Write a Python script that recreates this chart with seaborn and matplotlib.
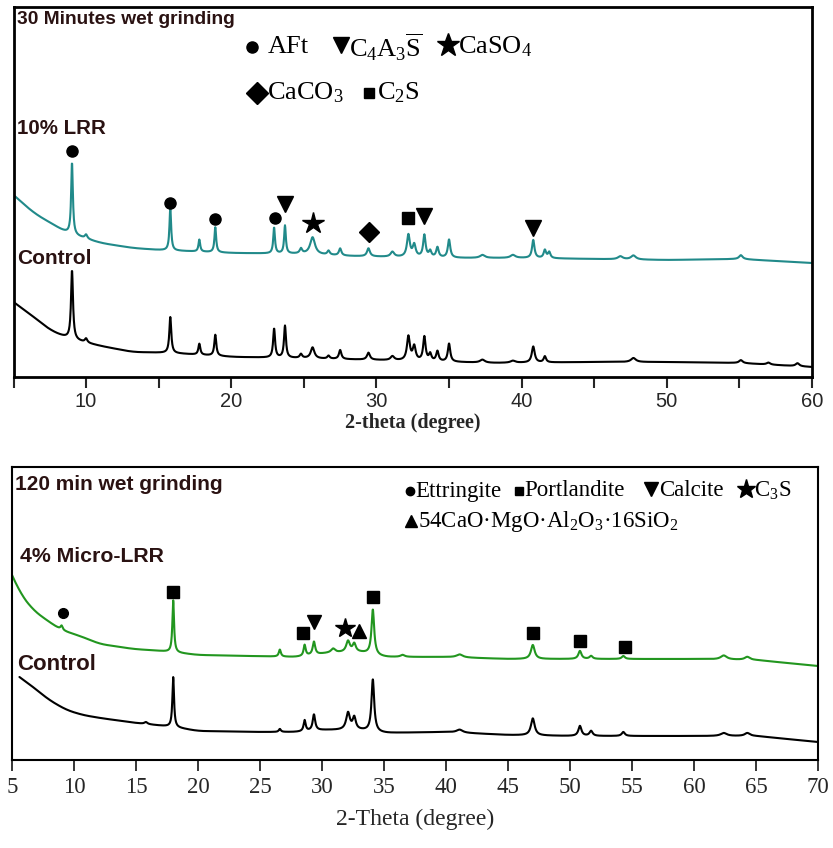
import numpy as np
import pandas as pd
import matplotlib
matplotlib.use("Agg")
import matplotlib.pyplot as plt
import seaborn as sns

# ---------------- data (arbitrary intensity units) -------------
# Panel A: 30 minutes wet grinding
a_lrr_bg_x = [5, 6.4, 8.7, 11, 13.2, 15, 20, 25, 28, 31, 36, 40, 45, 50, 55, 60]
a_lrr_bg_y = [182, 164, 144, 134, 129, 127, 124, 123, 121, 120, 119, 119, 118, 117, 118, 114]
a_lrr_pk_pos = [9.03, 10.0, 15.8, 17.8, 18.9, 22.95, 23.7, 24.8, 25.6, 26.7, 27.5, 29.45, 31.1,
                32.2, 32.6, 33.3, 33.7, 34.2, 35.0, 37.3, 39.4, 40.8, 41.6, 41.9, 46.8, 47.7, 55.1]
a_lrr_pk_h = [72, 4, 42, 12, 25, 26, 28, 5, 17, 4, 7, 8, 5,
              22, 12, 22, 6, 10, 18, 3, 3, 18, 8, 6, 3, 4, 4]
a_lrr_pk_w = [0.07, 0.1, 0.07, 0.07, 0.07, 0.07, 0.07, 0.1, 0.2, 0.1, 0.1, 0.12, 0.15,
              0.12, 0.12, 0.1, 0.1, 0.1, 0.1, 0.2, 0.2, 0.1, 0.1, 0.1, 0.2, 0.2, 0.15]

a_ctl_bg_x = [5, 6.4, 7.5, 8.7, 9.8, 11, 13.2, 15.8, 20.2, 24, 30, 38, 45, 50, 55, 60]
a_ctl_bg_y = [75, 60, 47, 39, 35, 31, 25, 24, 20, 19, 17, 14, 15, 15, 14, 10]
a_ctl_pk_pos = [9.03, 10.0, 15.8, 17.8, 18.9, 22.95, 23.7, 24.8, 25.6, 26.7, 27.5, 29.45, 31.1,
                32.2, 32.6, 33.3, 33.7, 34.2, 35.0, 37.3, 39.4, 40.8, 41.6, 47.7, 55.1, 57.0, 59.0]
a_ctl_pk_h = [69, 4, 36, 11, 21, 29, 32, 4, 11, 3, 9, 7, 4,
              24, 14, 24, 7, 10, 18, 3, 2, 16, 6, 4, 3, 2, 3]
a_ctl_pk_w = [0.08, 0.1, 0.08, 0.08, 0.08, 0.08, 0.08, 0.1, 0.15, 0.1, 0.1, 0.12, 0.15,
              0.12, 0.12, 0.1, 0.1, 0.1, 0.1, 0.2, 0.2, 0.12, 0.1, 0.2, 0.15, 0.15, 0.15]

a_mark_x = [9.03, 15.8, 18.9, 23.0, 23.7, 25.6, 29.5, 32.2, 33.3, 40.8]
a_mark_y = [226, 174, 158, 159, 173, 154, 145, 159, 161, 149]
a_mark_kind = ["o", "o", "o", "o", "v", "*", "D", "s", "v", "v"]

# Panel B: 120 min wet grinding
b_lrr_bg_x = [5, 5.65, 6.7, 8.0, 9.0, 10.7, 12.1, 14.8, 17, 20, 24, 28, 30.5, 33, 35, 40, 45, 50, 55, 60, 65, 70]
b_lrr_bg_y = [185, 167, 150, 138, 130, 123, 116, 111, 109, 105, 104, 103, 107, 108, 103, 103, 101, 101, 101, 101, 100, 94]
b_lrr_pk_pos = [9.0, 18.0, 26.6, 28.6, 29.35, 30.9, 32.1, 32.6, 34.1, 36.5, 41.1, 47.0, 50.8, 51.7, 54.3, 62.4, 64.3]
b_lrr_pk_h = [4, 52, 7, 11, 13, 4, 11, 8, 45, 2, 3, 14, 8, 3, 3, 4, 3]
b_lrr_pk_w = [0.1, 0.08, 0.1, 0.1, 0.12, 0.2, 0.18, 0.15, 0.13, 0.2, 0.3, 0.18, 0.15, 0.15, 0.15, 0.3, 0.25]

b_ctl_bg_x = [5.6, 6.7, 8.0, 9.4, 10.7, 12.1, 15, 18, 20, 25, 28, 30, 33, 35, 40, 45, 50, 55, 60, 65, 70]
b_ctl_bg_y = [83, 73, 60, 50, 45, 42, 37, 33, 29, 28, 28, 30, 30, 27, 28, 25, 24, 24, 24, 24, 18]
b_ctl_pk_pos = [15.8, 18.0, 26.6, 28.6, 29.35, 32.1, 32.6, 34.1, 41.1, 47.0, 50.8, 51.7, 54.3, 62.4, 64.3]
b_ctl_pk_h = [2, 50, 3, 11, 16, 17, 12, 52, 3, 17, 10, 5, 4, 3, 3]
b_ctl_pk_w = [0.15, 0.08, 0.1, 0.1, 0.12, 0.18, 0.15, 0.13, 0.3, 0.18, 0.15, 0.15, 0.15, 0.3, 0.25]

b_mark_x = [9.1, 18.0, 28.5, 29.35, 31.85, 33.0, 34.1, 47.0, 50.8, 54.4]
b_mark_y = [147, 168, 127, 138, 132, 129, 163, 127, 119, 113]
b_mark_kind = ["o", "s", "s", "v", "*", "^", "s", "s", "s", "s"]


def pattern(x0, x1, bg_x, bg_y, pos, h, w):
    step = 0.02
    x = np.arange(x0, x1 + 1e-9, step)
    base = np.interp(x, bg_x, bg_y)
    # soften the corners of the read baseline with a moving average
    # (odd reflection at the ends keeps the end slopes)
    k = 61
    m = k // 2
    left = 2 * base[0] - base[m:0:-1]
    right = 2 * base[-1] - base[-2:-m - 2:-1]
    padded = np.concatenate([left, base, right])
    base = np.convolve(padded, np.ones(k) / k, mode="valid")
    y = base.copy()
    for p, hh, ww in zip(pos, h, w):
        y = y + hh / (1.0 + ((x - p) / ww) ** 2)
    return pd.DataFrame({"two_theta": x, "intensity": y})


# ---------------- styling -------------
sns.set_theme(style="white")
plt.rcParams["font.family"] = ["Liberation Sans", "DejaVu Sans"]
plt.rcParams["mathtext.fontset"] = "custom"
plt.rcParams["mathtext.rm"] = "Liberation Serif"
plt.rcParams["mathtext.it"] = "Liberation Serif:italic"
plt.rcParams["mathtext.bf"] = "Liberation Serif:bold"

W, H = 833, 848
fig = plt.figure(figsize=(W / 100, H / 100), dpi=100)


def fx(px):
    return px / W


def fy(py):
    return 1 - py / H


LBL = "#2a1212"
TEAL = "#218a8a"
GREEN = "#22961f"
SERIF = ["Liberation Serif", "DejaVu Serif"]

# ---------------- Panel A -------------
axA = fig.add_axes([fx(13.5), fy(377), fx(812) - fx(13.5), fy(7) - fy(377)])
dA1 = pattern(5, 60, a_lrr_bg_x, a_lrr_bg_y, a_lrr_pk_pos, a_lrr_pk_h, a_lrr_pk_w)
dA0 = pattern(5, 60, a_ctl_bg_x, a_ctl_bg_y, a_ctl_pk_pos, a_ctl_pk_h, a_ctl_pk_w)
sns.lineplot(data=dA1, x="two_theta", y="intensity", ax=axA, color=TEAL, lw=1.5,
             estimator=None, sort=False)
sns.lineplot(data=dA0, x="two_theta", y="intensity", ax=axA, color="black", lw=1.5,
             estimator=None, sort=False)
msz = {"o": 8, "v": 11, "*": 16, "D": 10, "s": 8, "^": 11}
for xm, ym, k in zip(a_mark_x, a_mark_y, a_mark_kind):
    axA.plot([xm], [ym], marker=k, color="black", ms=msz[k], ls="none")
axA.set_xlim(5, 60)
axA.set_ylim(0, 370)
axA.set_yticks([])
ticksA = list(range(5, 61, 5))
axA.set_xticks(ticksA)
axA.set_xticklabels([str(t) if t % 10 == 0 else "" for t in ticksA], fontsize=14.5)
axA.tick_params(axis="x", direction="out", length=8, width=1.5, bottom=True, pad=3)
axA.set_xlabel("2-theta (degree)", fontsize=14.5, fontweight="bold", family=SERIF, labelpad=1)
axA.set_ylabel("")
for s in axA.spines.values():
    s.set_linewidth(2)
    s.set_color("black")

fig.text(fx(17), fy(20), "30 Minutes wet grinding", fontsize=13.8, fontweight="bold",
         color=LBL, va="center", ha="left")
fig.text(fx(17), fy(129), "10% LRR", fontsize=14.8, fontweight="bold", color=LBL,
         va="center", ha="left")
fig.text(fx(17), fy(259), "Control", fontsize=15, fontweight="bold", color=LBL,
         va="center", ha="left")


# legend of panel A
def leg_marker(px, py, k, size):
    fig.lines.append(plt.Line2D([fx(px)], [fy(py)], marker=k, color="black", ms=size,
                                ls="none", transform=fig.transFigure))


def leg_text(px, py, s, size):
    fig.text(fx(px), fy(py), s, fontsize=size, family=SERIF, color="black",
             va="center", ha="left")


leg_marker(252, 47, "o", 8)
leg_text(268, 47, "AFt", 19)
leg_marker(341, 45, "v", 12)
leg_text(349, 47, r"C$_4$A$_3$$\overline{\mathrm{S}}$", 19)
leg_marker(448, 45, "*", 17)
leg_text(458, 47, r"CaSO$_4$", 19)
leg_marker(257, 93, "D", 11)
leg_text(267, 93, r"CaCO$_3$", 19)
leg_marker(369, 93, "s", 7)
leg_text(377, 93, r"C$_2$S", 19)

# ---------------- Panel B -------------
axB = fig.add_axes([fx(12), fy(760), fx(818) - fx(12), fy(467) - fy(760)])
dB1 = pattern(5, 70, b_lrr_bg_x, b_lrr_bg_y, b_lrr_pk_pos, b_lrr_pk_h, b_lrr_pk_w)
dB0 = pattern(5.6, 70, b_ctl_bg_x, b_ctl_bg_y, b_ctl_pk_pos, b_ctl_pk_h, b_ctl_pk_w)
sns.lineplot(data=dB1, x="two_theta", y="intensity", ax=axB, color=GREEN, lw=1.5,
             estimator=None, sort=False)
sns.lineplot(data=dB0, x="two_theta", y="intensity", ax=axB, color="black", lw=1.5,
             estimator=None, sort=False)
mszB = {"o": 7, "v": 10, "*": 15, "D": 10, "s": 8, "^": 10}
for xm, ym, k in zip(b_mark_x, b_mark_y, b_mark_kind):
    axB.plot([xm], [ym], marker=k, color="black", ms=mszB[k], ls="none")
axB.set_xlim(5, 70)
axB.set_ylim(0, 293)
axB.set_yticks([])
ticksB = list(range(5, 71, 5))
axB.set_xticks(ticksB)
axB.set_xticklabels([str(t) for t in ticksB], fontsize=16.5, family=SERIF)
axB.tick_params(axis="x", direction="out", length=8, width=1.3, bottom=True, pad=4)
axB.set_xlabel("2-Theta (degree)", fontsize=17, family=SERIF, labelpad=8)
axB.set_ylabel("")
for s in axB.spines.values():
    s.set_linewidth(1.5)
    s.set_color("black")

fig.text(fx(15), fy(484), "120 min wet grinding", fontsize=15, fontweight="bold",
         color=LBL, va="center", ha="left")
fig.text(fx(20), fy(556), "4% Micro-LRR", fontsize=15.3, fontweight="bold", color=LBL,
         va="center", ha="left")
fig.text(fx(17), fy(664), "Control", fontsize=16, fontweight="bold", color=LBL,
         va="center", ha="left")

leg_marker(410, 491, "o", 6)
leg_text(415, 491, "Ettringite", 16.5)
leg_marker(519, 491, "s", 6)
leg_text(524, 491, "Portlandite", 16.5)
leg_marker(651, 489, "v", 10)
leg_text(659, 491, "Calcite", 16.5)
leg_marker(746, 489, "*", 14)
leg_text(754, 491, r"C$_3$S", 16.5)
leg_marker(411, 521, "^", 9)
leg_text(418, 522, r"54CaO·MgO·Al$_2$O$_3$·16SiO$_2$", 16.5)

fig.savefig("out.png", dpi=100)
